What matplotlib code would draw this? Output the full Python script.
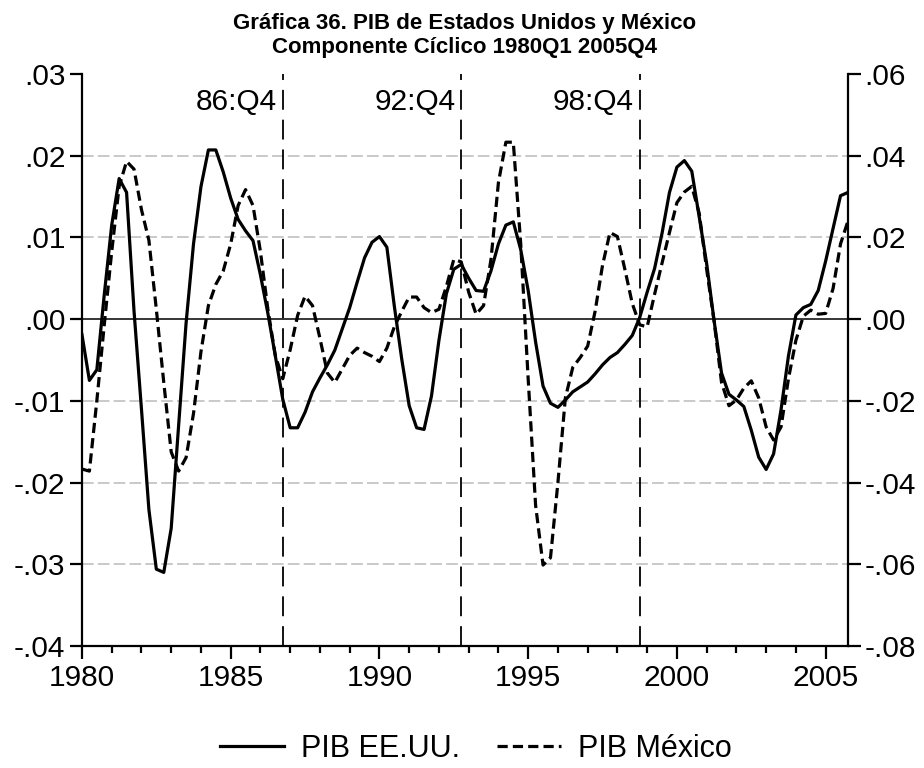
import numpy as np
import matplotlib
matplotlib.use('Agg')
import matplotlib.pyplot as plt
from matplotlib.ticker import FuncFormatter, MultipleLocator

plt.rcParams['font.family'] = ['Liberation Sans', 'DejaVu Sans']

# componente ciclico trimestral, 1980Q1 - 2005Q4
pib_eeuu = [
    -0.0019, -0.0075, -0.0062, 0.0030, 0.0115, 0.0172, 0.0155, 0.0010,
    -0.0110, -0.0233, -0.0306, -0.0310, -0.0256, -0.0130, -0.0005, 0.0092,
    0.0162, 0.0207, 0.0207, 0.0180, 0.0148, 0.0122, 0.0108, 0.0096,
    0.0054, 0.0007, -0.0045, -0.0098, -0.0133, -0.0133, -0.0114, -0.0089,
    -0.0072, -0.0056, -0.0038, -0.0012, 0.0014, 0.0045, 0.0075, 0.0094,
    0.0101, 0.0088, 0.0016, -0.0049, -0.0106, -0.0133, -0.0135, -0.0094,
    -0.0026, 0.0031, 0.0061, 0.0067, 0.0050, 0.0035, 0.0034, 0.0059,
    0.0092, 0.0115, 0.0119, 0.0085, 0.0035, -0.0028, -0.0082, -0.0103,
    -0.0108, -0.0099, -0.0089, -0.0083, -0.0077, -0.0067, -0.0056, -0.0047,
    -0.0041, -0.0031, -0.0020, 0.0002, 0.0033, 0.0062, 0.0105, 0.0155,
    0.0186, 0.0194, 0.0181, 0.0125, 0.0068, -0.0002, -0.0066, -0.0092,
    -0.0099, -0.0107, -0.0136, -0.0169, -0.0184, -0.0165, -0.0111, -0.0045,
    0.0005, 0.0014, 0.0018, 0.0035, 0.0071, 0.0111, 0.0151, 0.0155,
]
pib_mexico = [
    -0.0367, -0.0372, -0.0200, -0.0014, 0.0165, 0.0325, 0.0386, 0.0367,
    0.0268, 0.0193, 0.0024, -0.0155, -0.0325, -0.0372, -0.0339, -0.0231,
    -0.0080, 0.0033, 0.0085, 0.0118, 0.0184, 0.0278, 0.0317, 0.0278,
    0.0165, 0.0024, -0.0089, -0.0146, -0.0075, 0.0009, 0.0056, 0.0033,
    -0.0047, -0.0132, -0.0155, -0.0122, -0.0089, -0.0071, -0.0082, -0.0091,
    -0.0104, -0.0071, -0.0019, 0.0019, 0.0054, 0.0054, 0.0028, 0.0016,
    0.0024, 0.0080, 0.0146, 0.0140, 0.0066, 0.0012, 0.0033, 0.0146,
    0.0334, 0.0433, 0.0433, 0.0184, -0.0146, -0.0456, -0.0602, -0.0584,
    -0.0400, -0.0193, -0.0118, -0.0094, -0.0066, 0.0019, 0.0132, 0.0212,
    0.0202, 0.0122, 0.0038, -0.0014, -0.0019, 0.0061, 0.0137, 0.0212,
    0.0285, 0.0311, 0.0325, 0.0259, 0.0122, -0.0005, -0.0155, -0.0212,
    -0.0198, -0.0169, -0.0151, -0.0193, -0.0264, -0.0296, -0.0264, -0.0146,
    -0.0052, 0.0007, 0.0022, 0.0012, 0.0014, 0.0075, 0.0184, 0.0240,
]
quiebres = [1986.75, 1992.75, 1998.75]
quiebres_txt = ['86:Q4', '92:Q4', '98:Q4']

t = 1980 + np.arange(len(pib_eeuu)) / 4.0


def fmt(v, pos):
    s = '%.2f' % v
    return s.replace('0.', '.', 1)


fig = plt.figure(figsize=(9.24, 7.68), dpi=100)
ax = fig.add_axes([0.0887, 0.1589, 0.829, 0.7448])
ax2 = ax.twinx()

ax.set_xlim(1980, t[-1])
ax.set_ylim(-0.04, 0.03)
ax2.set_ylim(-0.08, 0.06)

# rejilla gris discontinua y linea de cero
for g in [0.02, 0.01, -0.01, -0.02, -0.03, -0.04]:
    ax.axhline(g, color='#c0c0c0', lw=1.2, ls=(0, (7, 2.5)), zorder=1)
ax.axhline(0, color='black', lw=1.1, zorder=2)

for q, txt in zip(quiebres, quiebres_txt):
    ax.axvline(q, color='black', lw=1.3, ls=(0, (11, 5.5)), zorder=2)
    ax.text(q - 0.2, 0.0266, txt, ha='right', va='center', fontsize=21.5)

l1, = ax.plot(t, pib_eeuu, color='black', lw=2.3, zorder=4, label='PIB EE.UU.')
l2, = ax2.plot(t, pib_mexico, color='black', lw=2.3, ls=(0, (3.2, 1.6)),
               zorder=4, label='PIB México')

for a in (ax, ax2):
    a.spines['top'].set_visible(False)
    for s in a.spines.values():
        s.set_linewidth(1.6)
ax.spines['right'].set_visible(False)
ax2.spines['left'].set_visible(False)
ax2.spines['bottom'].set_visible(False)

ax.yaxis.set_major_locator(MultipleLocator(0.01))
ax2.yaxis.set_major_locator(MultipleLocator(0.02))
ax.yaxis.set_major_formatter(FuncFormatter(fmt))
ax2.yaxis.set_major_formatter(FuncFormatter(fmt))
ax.xaxis.set_major_locator(MultipleLocator(5))
ax.xaxis.set_minor_locator(MultipleLocator(1))

ax.tick_params(axis='y', direction='out', length=9, width=1.6, labelsize=21.5, pad=3)
ax2.tick_params(axis='y', direction='out', length=9, width=1.6, labelsize=21.5, pad=3)
ax.tick_params(axis='x', which='major', direction='out', length=9, width=1.6,
               labelsize=21.5, pad=4)
ax.tick_params(axis='x', which='minor', direction='out', length=5, width=1.6)

fig.text(0.503, 0.983, 'Gráfica 36. PIB de Estados Unidos y México\nComponente Cíclico 1980Q1 2005Q4',
         ha='center', va='top', fontsize=16, fontweight='bold', linespacing=1.2)

fig.legend([l1, l2], ['PIB EE.UU.', 'PIB México'], loc='center',
           bbox_to_anchor=(0.515, 0.025), ncol=2, frameon=False, fontsize=22,
           handlelength=2.1, handletextpad=0.55, columnspacing=1.2)

fig.savefig('out.png', dpi=100)
